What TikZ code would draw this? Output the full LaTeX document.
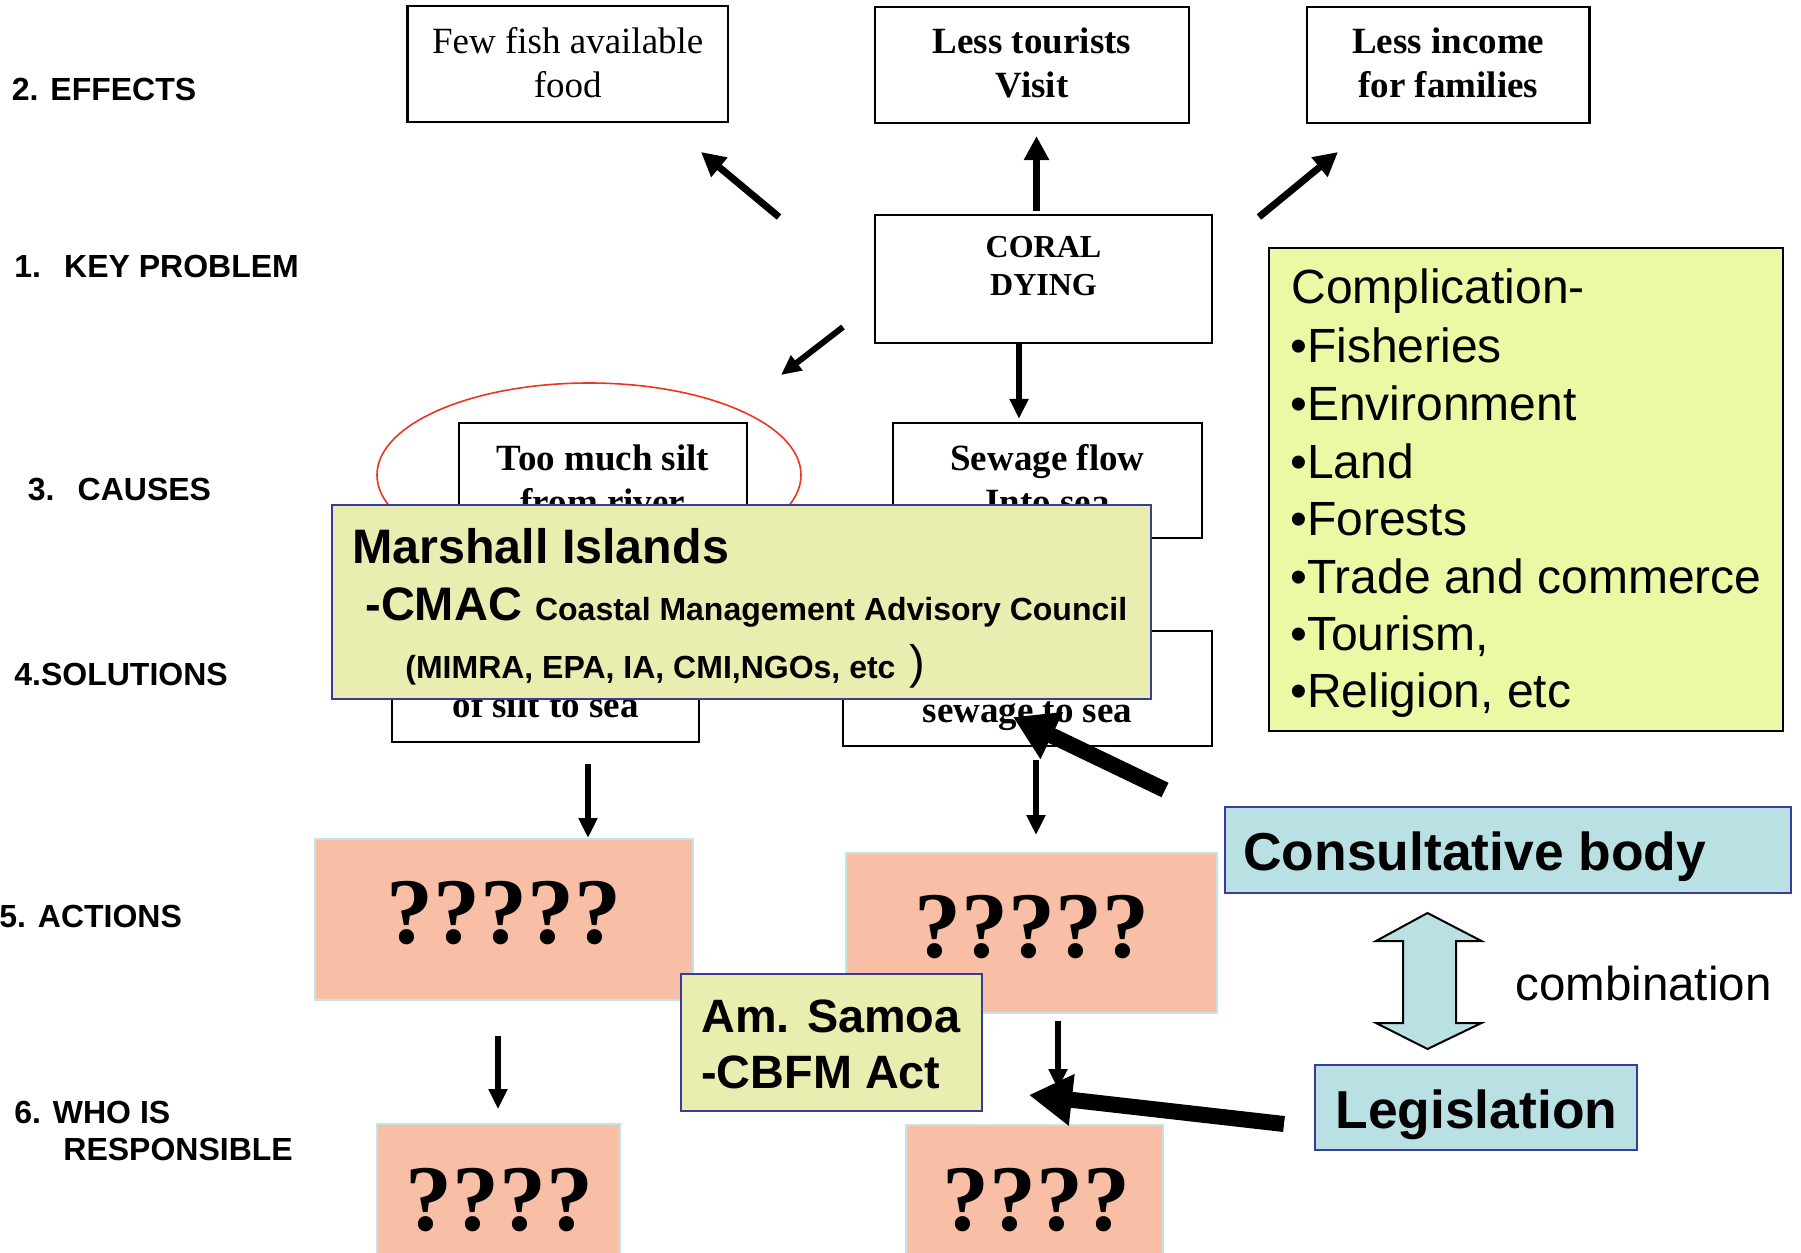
\documentclass[tikz,border=0pt]{standalone}
\usepackage{fontspec}
\setmainfont{Liberation Serif}
\setsansfont{Liberation Sans}
\usetikzlibrary{arrows.meta,shapes.geometric}
\definecolor{salmon}{HTML}{F9BFA6}
\definecolor{salmonb}{HTML}{C2E6E8}
\definecolor{pale}{HTML}{E9EDB0}
\definecolor{navyb}{HTML}{3B3B9E}
\definecolor{limef}{HTML}{EAF9A3}
\definecolor{cyanf}{HTML}{B9E0E3}
\definecolor{redl}{HTML}{EE3322}
\newcommand\myfs[1]{\fontsize{#1}{#1}\selectfont}
\begin{document}
\begin{tikzpicture}[x=0.5pt,y=-0.5pt,
  sz/.style 2 args={minimum width=#1*0.5pt, minimum height=#2*0.5pt},
  wbox/.style={draw=black, line width=1.1pt, fill=white, inner sep=0},
  sbox/.style={draw=salmonb, line width=0.9pt, fill=salmon, inner sep=0},
  pbox/.style={draw=navyb, line width=1pt, fill=pale, inner sep=0},
  cbox/.style={draw=navyb, line width=1pt, fill=cyanf, inner sep=0},
  tx/.style={inner sep=0, anchor=base},
  txl/.style={inner sep=0, anchor=base west},
  lab/.style={font=\sffamily\bfseries\myfs{16}},
  sr/.style={font=\rmfamily\myfs{18.5}},
  sb/.style={font=\rmfamily\bfseries\myfs{18.5}},
  qm/.style={font=\rmfamily\bfseries\myfs{47}},
  bigarr/.style={line width=3.5pt, -{Triangle[length=12pt,width=12pt]}},
  thinarr/.style={line width=3pt, -{Triangle[length=10pt,width=9pt]}},
  thickarr/.style={line width=8pt, -{Triangle[length=21.5pt,width=24.5pt]}}]
\path[use as bounding box] (0,0) rectangle (1801,1253);
\clip (0,0) rectangle (1801,1253);

% left labels
\node[txl,lab] (l2) at (11.5,100) {2. EFFECTS};
\node[txl,lab] (l1) at (14,277) {1.\ \ \,KEY PROBLEM};
\node[txl,lab] (l3) at (27.5,500) {3.\ \ \,CAUSES};
\node[txl,lab] (l4) at (14,685) {4.SOLUTIONS};
\node[txl,lab] (l5) at (-1,927) {5. ACTIONS};
\node[txl,lab] (l6a) at (14,1123) {6. WHO IS};
\node[txl,lab] (l6b) at (63,1160) {RESPONSIBLE};

% effects
\node[wbox,sz={320.5}{116}] (fewfish) at (567.75,64) {};
\node[tx,sr] (ff1) at (567.75,53) {Few fish available};
\node[tx,sr] (ff2) at (567.75,97) {food};
\node[wbox,sz={314}{116}] (lesstour) at (1032,65) {};
\node[tx,sb] (lt1) at (1032,53) {Less tourists};
\node[tx,sb] (lt2) at (1032,97) {Visit};
\node[wbox,sz={282.5}{116}] (lessinc) at (1448.25,65) {};
\node[tx,sb] (li1) at (1448.25,53) {Less income};
\node[tx,sb] (li2) at (1448.25,97) {for families};

% key problem
\node[wbox,sz={337}{128}] (coral) at (1043.5,279) {};
\node[tx,font=\rmfamily\bfseries\myfs{16}] (cd1) at (1043.5,257) {CORAL};
\node[tx,font=\rmfamily\bfseries\myfs{16}] (cd2) at (1043.5,295) {DYING};

% effect arrows
\coordinate (a1s) at (779,217); \coordinate (a1e) at (701,152);
\draw[bigarr] (a1s) -- (a1e);
\draw[bigarr, shorten <=1.5pt, shorten >=6pt] ([xshift=2.25pt]coral.north -| lesstour.south) -- ([xshift=2.25pt]lesstour.south);
\coordinate (a3s) at (1259,217); \coordinate (a3e) at (1338,152);
\draw[bigarr] (a3s) -- (a3e);
\coordinate (a4s) at (843,327); \coordinate (a4e) at (781,375);
\draw[thinarr] (a4s) -- (a4e);

% complication box
\node[draw=black, line width=1.1pt, fill=limef, inner sep=0, sz={514}{483}] (compl) at (1526,489.5) {};
\begin{scope}[every node/.style={txl, font=\sffamily\myfs{24}}]
\node (c0) at (1291,303) {Complication-};
\node (c1) at (1290,362) {•Fisheries};
\node (c2) at (1290,420) {•Environment};
\node (c3) at (1290,478) {•Land};
\node (c4) at (1290,535) {•Forests};
\node (c5) at (1290,593) {•Trade and commerce};
\node (c6) at (1290,650) {•Tourism,};
\node (c7) at (1290,707) {•Religion, etc};
\end{scope}

% causes
\node[draw=redl, line width=0.8pt, ellipse, inner sep=0, sz={424}{184}] (ell) at (589,475) {};
\node[wbox,sz={288}{115}] (silt) at (603,480.5) {};
\node[tx,sb] (s1) at (603,470) {Too much silt};
\node[tx,sb] (s2) at (603,514) {from river};
\node[wbox,sz={309}{115}] (sew) at (1047.5,480.5) {};
\node[tx,sb] (w1) at (1047.5,470) {Sewage flow};
\node[tx,sb] (w2) at (1047.5,514) {Into sea};
\draw[thinarr, shorten >=1.5pt] ([xshift=-12.25pt]coral.south) -- ([xshift=-12.25pt]coral.south |- sew.north);

% solutions
\node[wbox,sz={307}{117}] (sol1) at (545.5,683.5) {};
\node[tx,sb] (o1) at (545.5,717) {of silt to sea};
\node[wbox,sz={369}{115}] (sol2) at (1027.5,688.5) {};
\node[tx,sb] (o2) at (1027.5,722) {sewage to sea};

% Marshall Islands
\node[pbox,sz={819}{194}] (marsh) at (741.5,602) {};
\node[txl,font=\sffamily\bfseries\myfs{24.2}] (m1) at (352,563) {Marshall Islands};
\node[txl,font=\sffamily\bfseries\myfs{23.5}] (m2) at (365,620) {-CMAC {\myfs{16}Coastal Management Advisory Council}};
\node[txl,font=\sffamily\bfseries\myfs{16}] (m3) at (405,678) {(MIMRA, EPA, IA, CMI,NGOs, etc\hspace{7pt}{\mdseries\myfs{23.5})}};

\coordinate (b1s) at (1165,790); \coordinate (b1e) at (1013,717);
\draw[thickarr] (b1s) -- (b1e);

% actions
\draw[thinarr, shorten <=10.5pt, shorten >=0.5pt] ([xshift=21.25pt]sol1.south) -- ([xshift=21.25pt]sol1.south |- 0,839);
\draw[thinarr, shorten <=6.5pt, shorten >=9pt] ([xshift=4.25pt]sol2.south) -- ([xshift=4.25pt]sol2.south |- 0,853);
\node[sbox,sz={378}{161}] (act1) at (504,919.5) {};
\node[tx,qm] (q1) at (504,943) {?????};
\node[sbox,sz={371}{160}] (act2) at (1031.5,933) {};
\node[tx,qm] (q2) at (1032,957) {?????};

% responsible
\node[sbox,sz={243}{146}] (resp1) at (498.5,1197) {};
\node[tx,qm] (q3) at (499,1230) {????};
\node[sbox,sz={257}{145}] (resp2) at (1034.5,1197.5) {};
\node[tx,qm] (q4) at (1036,1230) {????};
\draw[thinarr, shorten <=17.5pt, shorten >=7pt] ([xshift=-3pt]act1.south) -- ([xshift=-3pt]act1.south |- resp1.north);
\draw[thinarr, shorten <=3.5pt, shorten >=17.5pt] ([xshift=13.25pt]act2.south) -- ([xshift=13.25pt]act2.south |- resp2.north);

% Am. Samoa
\node[pbox,sz={301}{137}] (samoa) at (831.5,1042.5) {};
\node[txl,font=\sffamily\bfseries\myfs{23.4}] (sa1) at (701,1032) {Am. Samoa};
\node[txl,font=\sffamily\bfseries\myfs{23.4}] (sa2) at (701,1088) {-CBFM Act};

% consultative / legislation
\node[cbox,sz={566}{86}] (consult) at (1508,850) {};
\node[txl,font=\sffamily\bfseries\myfs{26.7}] (ct) at (1243,870) {Consultative body};
\node[cbox,sz={322}{85}] (legis) at (1476,1107.5) {};
\node[txl,font=\sffamily\bfseries\myfs{26.7}] (lg) at (1335,1128) {Legislation};
\draw[line width=1pt, fill=cyanf, line join=miter] (1427.5,913) -- (1481.5,941) -- (1456,941) -- (1456,1023) -- (1481.5,1023) -- (1427.5,1049) -- (1376,1023) -- (1403,1023) -- (1403,941) -- (1376,941) -- cycle;
\node[txl,font=\sffamily\myfs{23.75}] (comb) at (1515,1000) {combination};

\coordinate (b2s) at (1284,1124); \coordinate (b2e) at (1029,1095);
\draw[thickarr] (b2s) -- (b2e);
\end{tikzpicture}
\end{document}
